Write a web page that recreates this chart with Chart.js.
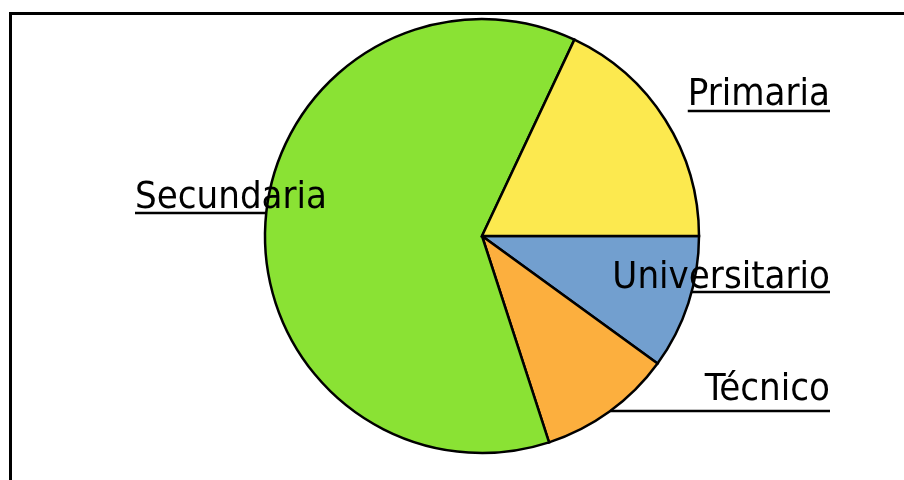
<!DOCTYPE html>
<html>
<head>
<meta charset="utf-8">
<script src="https://cdn.jsdelivr.net/npm/chart.js@4"></script>
<style>
  html, body { margin: 0; padding: 0; background: #fff; }
  #wrap { width: 904px; height: 480px; position: relative; }
</style>
</head>
<body>
<div id="wrap"><canvas id="pie"></canvas></div>
<script>
// --- data (clockwise from 3 o'clock) ---
const categories = ['Universitario', 'Técnico', 'Secundaria', 'Primaria'];
const shares = [10, 10, 62, 18];
const sliceColors = ['#729fcf', '#fcaf3e', '#8ae234', '#fce94f'];

// label placement: side, baseline, underline y, whether the rule starts at the pie edge
const labelSide = ['right', 'right', 'left', 'right'];
const labelBaseline = [288, 400, 208, 105];
const labelRuleY = [292, 411, 213, 111];
const ruleFromEdge = [true, true, true, false];

const FONT = '38px "DejaVu Sans Condensed", "DejaVu Sans", Verdana, sans-serif';

const frameAndLabels = {
    id: 'frameAndLabels',
    afterDraw(chart) {
        const ctx = chart.ctx;
        const arc = chart.getDatasetMeta(0).data[0];
        const cx = arc.x, cy = arc.y, r = arc.outerRadius;

        ctx.save();
        // outer frame, runs off the right / bottom edge
        ctx.strokeStyle = '#000';
        ctx.lineWidth = 3;
        ctx.strokeRect(10.5, 13.5, 910, 490);

        ctx.font = FONT;
        ctx.fillStyle = '#000';
        ctx.textBaseline = 'alphabetic';
        categories.forEach((name, i) => {
            const w = ctx.measureText(name).width;
            const yRule = labelRuleY[i];
            const dy = yRule - cy;
            const half = Math.sqrt(Math.max(r * r - dy * dy, 0));
            let x0, x1, tx;
            if (labelSide[i] === 'right') {
                tx = 830 - w;
                x1 = 830;
                x0 = ruleFromEdge[i] ? cx + half : tx;
            } else {
                tx = 135;
                x0 = tx;
                x1 = cx - half;
            }
            ctx.textAlign = 'left';
            ctx.fillText(name, tx, labelBaseline[i]);
            ctx.lineWidth = 2.5;
            ctx.beginPath();
            ctx.moveTo(x0, yRule);
            ctx.lineTo(x1, yRule);
            ctx.stroke();
        });
        ctx.restore();
    }
};

new Chart(document.getElementById('pie').getContext('2d'), {
    type: 'pie',
    data: {
        labels: categories,
        datasets: [{
            data: shares,
            backgroundColor: sliceColors,
            borderColor: '#000',
            borderWidth: 2.5,
            borderJoinStyle: 'miter'
        }]
    },
    options: {
        responsive: true,
        maintainAspectRatio: false,
        animation: false,
        rotation: 90,
        radius: 217,
        layout: { padding: { left: 60, right: 0, top: 0, bottom: 8 } },
        plugins: {
            legend: { display: false },
            tooltip: { enabled: false }
        }
    },
    plugins: [frameAndLabels]
});
</script>
</body>
</html>
